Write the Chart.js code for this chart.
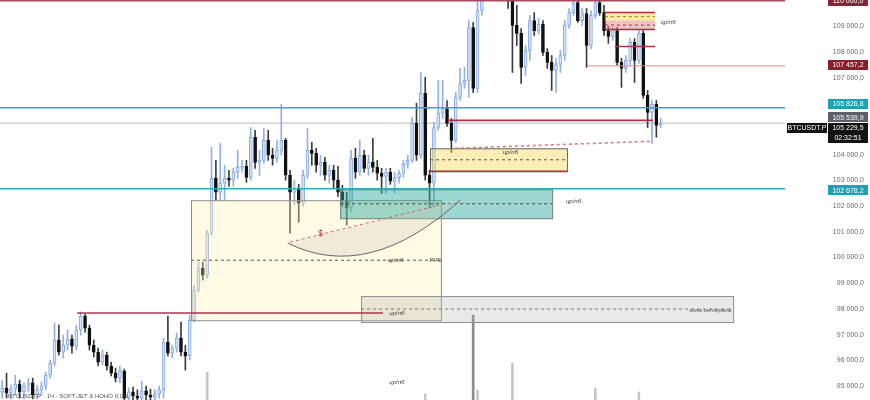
<!DOCTYPE html>
<html>
<head>
<meta charset="utf-8">
<title>BTCUSDT.P</title>
<script src="https://cdn.jsdelivr.net/npm/chart.js@4.4.1/dist/chart.umd.min.js"></script>
<style>
  html, body { margin: 0; padding: 0; background: #fff; }
  #chartBox { width: 870px; height: 400px; }
</style>
</head>
<body>
<div id="chartBox"><canvas id="priceChart" width="870" height="400"></canvas></div>
<script>
// hourly candles
const opens = [
  94770, 94920, 94730, 94880, 95080, 94770, 95000, 95120, 94650, 94850,
  95000, 95430, 95890, 96790, 96320, 96590, 96830, 96550, 97180, 97720,
  97250, 96590, 96320, 95930, 96200, 95780, 95500, 95310, 95580, 94530,
  94770, 94610, 94530, 94810, 94650, 94570, 94690, 94850, 96710, 96280,
  96480, 96870, 96320, 96170, 97560, 98730, 99590, 99310, 100950, 103080,
  102540, 102890, 103080, 103010, 103320, 103510, 103550, 103120, 104680, 103700,
  103780, 104560, 103980, 103860, 104170, 104560, 103200, 102540, 102690, 102110,
  103200, 104170, 104050, 103590, 103700, 103200, 103390, 103010, 102540, 102230,
  101920, 103860, 103320, 103980, 103470, 103700, 103510, 103280, 103160, 103320,
  102970, 103120, 103280, 103630, 103780, 105220, 103980, 106390, 103200, 102890,
  105060, 105610, 105800, 105220, 104560, 106230, 106770, 106890, 108950, 106580,
  109610, 110780, 111750, 111170, 111940, 111360, 110390, 110000, 109030, 108720,
  107400, 108060, 109220, 108830, 109070, 107980, 107590, 107280, 107510, 107860,
  109030, 109530, 109920, 109220, 109490, 108250, 109420, 109920, 109530, 108830,
  108600, 108830, 107590, 107360, 107670, 108370, 107670, 108720, 106310, 105650,
  105960, 105140
];
const highs = [
  95230, 95500, 95040, 95430, 95230, 95120, 95310, 95310, 95040, 95160,
  95540, 96010, 97450, 97370, 96980, 97180, 96980, 97370, 97880, 97800,
  97370, 96790, 96480, 96400, 96320, 95930, 95700, 95780, 95660, 94920,
  94960, 94850, 95190, 95000, 94880, 94850, 95000, 96870, 97720, 96590,
  97060, 97490, 96590, 97760, 98920, 99820, 99820, 101060, 104290, 103780,
  104440, 103590, 103390, 103470, 104170, 103780, 103780, 105060, 104950, 104170,
  105030, 104950, 104250, 104560, 105960, 104640, 103390, 103010, 102850, 103390,
  105030, 104480, 104250, 103980, 103900, 103590, 103590, 103550, 102810, 102540,
  104170, 104250, 104560, 104170, 103980, 104640, 103780, 103470, 103470, 103470,
  103320, 103390, 103780, 103980, 105450, 106000, 107200, 107010, 103390, 105260,
  106890, 106890, 106110, 105410, 106420, 107360, 107400, 109220, 109150, 110000,
  111550, 112330, 112530, 112720, 112530, 111750, 111170, 110390, 109810, 108910,
  108250, 109420, 109530, 109300, 109220, 108130, 107860, 107750, 108060, 109220,
  109690, 110190, 110080, 109690, 109690, 109610, 110190, 110310, 109810, 108990,
  108950, 108950, 107750, 107860, 108520, 108520, 108830, 108830, 106500, 106110,
  106110, 105410
];
const lows = [
  94530, 94530, 94500, 94650, 94530, 94500, 94770, 94500, 94500, 94650,
  94850, 95310, 95780, 96200, 96090, 96400, 96280, 96400, 96980, 97100,
  96400, 96130, 95780, 95820, 95620, 95390, 95160, 95120, 94380, 94380,
  94380, 94380, 94380, 94460, 94380, 94380, 94530, 94530, 96170, 96090,
  96320, 96170, 95620, 96010, 97490, 98650, 99120, 99200, 100870, 102230,
  102230, 102230, 102770, 102770, 103080, 103320, 102930, 103010, 103470, 103200,
  103670, 103780, 103590, 103700, 103980, 103010, 100950, 102030, 101370, 101990,
  103080, 103590, 103320, 103200, 103010, 102890, 102690, 102380, 101990, 101260,
  101760, 103080, 103200, 103320, 103200, 103320, 103010, 102500, 102500, 102850,
  102500, 102890, 103120, 103470, 103700, 103780, 103860, 103010, 101920, 101960,
  104950, 105410, 105100, 104090, 104480, 106110, 106580, 106230, 106420, 106420,
  109420, 110580, 110970, 110970, 111170, 110190, 109690, 107200, 108250, 106770,
  107090, 107670, 108640, 108680, 107860, 107360, 106500, 106420, 107200, 107670,
  108910, 109420, 109150, 109030, 107400, 108130, 109300, 109420, 108640, 108330,
  108450, 107470, 106620, 107200, 107470, 106810, 107550, 106190, 105060, 104440,
  104680, 105060
];
const closes = [
  94920, 94730, 94880, 95080, 94770, 95000, 95120, 94650, 94850, 95000,
  95430, 95890, 96790, 96320, 96590, 96830, 96550, 97180, 97720, 97250,
  96590, 96320, 95930, 96200, 95780, 95500, 95310, 95580, 94530, 94770,
  94610, 94530, 94810, 94650, 94570, 94690, 94850, 96710, 96280, 96480,
  96870, 96320, 96170, 97560, 98730, 99590, 99310, 100950, 103080, 102540,
  102890, 103080, 103010, 103320, 103510, 103550, 103120, 104680, 103700, 103780,
  104560, 103980, 103860, 104170, 104560, 103200, 102540, 102690, 102110, 103200,
  104170, 104050, 103590, 103700, 103200, 103390, 103010, 102540, 102230, 101920,
  103860, 103320, 103980, 103470, 103700, 103510, 103280, 103160, 103320, 102970,
  103120, 103280, 103630, 103780, 105220, 103980, 106390, 103200, 102890, 105060,
  105610, 105800, 105220, 104560, 106230, 106770, 106890, 108950, 106580, 109610,
  110780, 111750, 111170, 111940, 111360, 110390, 110000, 109030, 108720, 107400,
  108060, 109220, 108830, 109070, 107980, 107590, 107280, 107510, 107860, 109030,
  109530, 109920, 109220, 109490, 108250, 109420, 109920, 109530, 108830, 108600,
  108830, 107590, 107360, 107670, 108370, 107670, 108720, 106310, 105650, 105960,
  105140, 105229.5
];
// volume: only a few bars reach above the bottom edge, the rest stay hidden
const volumes = [
  null, null, null, null, null, null, null, null, null, null,
  null, null, null, null, null, null, null, null, null, null,
  null, null, null, null, null, null, null, null, null, null,
  null, null, null, null, null, null, null, null, null, null,
  null, null, null, null, null, null, null, 7, null, null,
  null, null, null, null, null, null, null, null, null, null,
  null, null, null, null, null, null, null, null, null, null,
  null, null, null, null, null, null, null, null, null, null,
  null, null, null, null, null, null, null, null, null, null,
  null, null, null, null, null, null, null, 1.5, null, null,
  null, null, null, null, null, null, null, null, 21.2, 2.5,
  null, null, null, null, null, null, null, 9.2, null, null,
  null, null, null, null, null, null, null, null, null, null,
  null, null, null, null, null, null, 3, null, null, null,
  null, null, null, null, null, null, 2, null, null, null,
  null, null
];
const slotCount = 180; // candles + empty space on the right
const priceTicks = [95000, 96000, 97000, 98000, 99000, 100000, 101000, 102000,
  103000, 104000, 105000, 106000, 107000, 108000, 109000, 110000];
const priceMin = 94456;
const priceMax = 110020;

// levels and drawings, in [index, price] terms
const topLevel = 109990;
const cyanLevels = [105826.8, 102678.2];
const redTagLevel = 107457.2;
const redTagFrom = 134.1;
const prevClose = 105539.9;
const lastPrice = 105229.5;
const countdown = "02:32:51";
const redSegments = [
  [17.2, 87.3, 97840],
  [102.2, 149.2, 105338],
  [140.5, 149.7, 108210],
];
const fvgZone = [43.3, 100.6, 102230, 97560];
const tealZone = [77.5, 126.1, 102655, 101530];
const yellowZone = [98.1, 129.5, 104250, 103355];
const interestZone = [82.3, 167.6, 98500, 97490];
const topYellowZone = [138.2, 149.7, 109530, 109220];
const topPinkZone = [138.2, 149.7, 109220, 108870];
const liquidityLine = [[103.8, 104250], [148.5, 104520]];
const sweepCurve = [[65.5, 100560], [84, 99000], [105, 102230]];
const sweepLine = [[66, 100600], [100, 102030]];
const notes = [
  [116.5, 104100, "цр/пб"],
  [131, 102190, "цр/пб"],
  [90.2, 99895, "цр/пб"],
  [90.5, 97840, "цр/пб"],
  [152.7, 109150, "цр/пб"],
  [90.5, 95150, "цр/пб"],
];

const fmtPrice = (v) => {
  const [whole, dec] = Number(v).toFixed(1).split(".");
  return whole.replace(/\B(?=(\d{3})+(?!\d))/g, " ") + "," + dec;
};
const isUp = (i) => closes[i] >= opens[i];

function hline(ctx, x0, x1, y, color, width, dash) {
  ctx.beginPath();
  ctx.setLineDash(dash || []);
  ctx.strokeStyle = color;
  ctx.lineWidth = width;
  ctx.moveTo(x0, y);
  ctx.lineTo(x1, y);
  ctx.stroke();
  ctx.setLineDash([]);
}

function label(ctx, str, x, y, color, font, align) {
  ctx.font = font;
  ctx.fillStyle = color;
  ctx.textAlign = align || "left";
  ctx.textBaseline = "middle";
  ctx.fillText(str, x, y);
}

function tag(ctx, str, left, width, yc, bg) {
  ctx.fillStyle = bg;
  ctx.fillRect(left, Math.round(yc - 5), width, 10);
  label(ctx, str, left + width / 2, yc + 0.5, "#fff", "7px 'Liberation Sans'", "center");
}

const drawings = {
  id: "drawings",
  beforeDatasetsDraw(chart) {
    const { ctx, chartArea: a, scales } = chart;
    ctx.save();
    hline(ctx, a.left, a.right, scales.y.getPixelForValue(lastPrice), "#b8b8b8", 1);
    ctx.restore();
  },
  afterDatasetsDraw(chart) {
    const { ctx, chartArea: a, scales } = chart;
    const px = (i) => scales.x.getPixelForValue(i);
    const py = (p) => scales.y.getPixelForValue(p);
    const zone = (z, fill, stroke, midColor) => {
      const x0 = px(z[0]), x1 = px(z[1]), y0 = py(z[2]), y1 = py(z[3]);
      ctx.fillStyle = fill;
      ctx.fillRect(x0, y0, x1 - x0, y1 - y0);
      if (stroke) {
        ctx.strokeStyle = stroke;
        ctx.lineWidth = 1;
        ctx.strokeRect(x0 + 0.5, y0 + 0.5, x1 - x0, y1 - y0);
      }
      if (midColor) hline(ctx, x0, x1, (y0 + y1) / 2, midColor, 1, [3, 3]);
    };

    ctx.save();
    ctx.beginPath();
    ctx.rect(a.left, a.top, a.width, a.height);
    ctx.clip();

    // zones
    zone(fvgZone, "rgba(255,240,170,0.32)", "#8f8f8f", "#555");
    zone(interestZone, "rgba(175,175,175,0.28)", "#8f8f8f", "#777");
    zone(tealZone, "rgba(38,166,154,0.45)", "#6a7a78", "#444");
    zone(yellowZone, "rgba(250,215,80,0.42)", "#666", "#555");
    hline(ctx, px(yellowZone[0]), px(yellowZone[1]), py(yellowZone[3]), "#b0303f", 1.5);
    zone(topYellowZone, "rgba(250,215,80,0.5)", null, "#a08020");
    zone(topPinkZone, "rgba(225,120,120,0.45)", null, "#b03040");
    hline(ctx, px(topYellowZone[0]), px(topYellowZone[1]), py(topYellowZone[2]), "#a83040", 1.5);
    hline(ctx, px(topPinkZone[0]), px(topPinkZone[1]), py(topPinkZone[3]), "#a83040", 1.5);

    // sweep curve
    const p0 = [px(sweepCurve[0][0]), py(sweepCurve[0][1])];
    const c = [px(sweepCurve[1][0]), py(sweepCurve[1][1])];
    const p2 = [px(sweepCurve[2][0]), py(sweepCurve[2][1])];
    ctx.beginPath();
    ctx.moveTo(p0[0], p0[1]);
    ctx.quadraticCurveTo(c[0], c[1], p2[0], p2[1]);
    ctx.closePath();
    ctx.fillStyle = "rgba(205,200,190,0.3)";
    ctx.fill();
    ctx.beginPath();
    ctx.moveTo(p0[0], p0[1]);
    ctx.quadraticCurveTo(c[0], c[1], p2[0], p2[1]);
    ctx.strokeStyle = "#666";
    ctx.lineWidth = 1;
    ctx.stroke();
    ctx.beginPath();
    ctx.setLineDash([3, 3]);
    ctx.moveTo(px(sweepLine[0][0]), py(sweepLine[0][1]));
    ctx.lineTo(px(sweepLine[1][0]), py(sweepLine[1][1]));
    ctx.strokeStyle = "#d06070";
    ctx.stroke();
    ctx.setLineDash([]);
    label(ctx, "$", px(73), py(100945), "#c04050", "9px 'Liberation Sans'", "center");

    // levels
    hline(ctx, a.left, a.right, py(topLevel), "#a8485a", 1.5);
    cyanLevels.forEach((p) => hline(ctx, a.left, a.right, py(p), "#2aaebf", 1.5));
    hline(ctx, px(redTagFrom), a.right, py(redTagLevel), "#d89098", 1);
    redSegments.forEach((s) => hline(ctx, px(s[0]), px(s[1]), py(s[2]), "#ad3447", 1.6));

    // liquidity dashes
    ctx.beginPath();
    ctx.setLineDash([3, 3]);
    ctx.moveTo(px(liquidityLine[0][0]), py(liquidityLine[0][1]));
    ctx.lineTo(px(liquidityLine[1][0]), py(liquidityLine[1][1]));
    ctx.strokeStyle = "rgba(215,110,120,0.9)";
    ctx.stroke();
    ctx.setLineDash([]);

    // small texts
    notes.forEach((n) => label(ctx, n[2], px(n[0]), py(n[1]), "#444", "italic 6px 'Liberation Sans'", "center"));
    label(ctx, "FVG", px(99.4), py(99895), "#444", "italic 6px 'Liberation Sans'", "center");
    label(ctx, "зона интереса", px(167.2), py(97960), "#555", "italic 6px 'Liberation Sans'", "right");
    label(ctx, "BTCUSDT.P · 1Ч · SOFT-JET & HOHO 0,0%", 8, 396, "#555", "6px 'Liberation Sans'", "left");
    ctx.restore();
  },
  afterDraw(chart) {
    const { ctx, scales } = chart;
    const py = (p) => scales.y.getPixelForValue(p);
    const right = chart.width - 2;
    ctx.save();
    tag(ctx, fmtPrice(110000), right - 40, 40, py(topLevel), "#8e2234");
    tag(ctx, fmtPrice(redTagLevel), right - 40, 40, py(redTagLevel) - 1, "#8e1b2b");
    tag(ctx, fmtPrice(cyanLevels[0]), right - 40, 40, py(cyanLevels[0]) - 4, "#1ba3b5");
    tag(ctx, fmtPrice(cyanLevels[1]), right - 40, 40, py(cyanLevels[1]) + 1.5, "#1ba3b5");
    tag(ctx, fmtPrice(prevClose), right - 40, 40, py(prevClose) + 2, "#5d6069");
    tag(ctx, fmtPrice(lastPrice), right - 40, 40, py(lastPrice) + 4.5, "#131313");
    tag(ctx, countdown, right - 40, 40, py(lastPrice) + 14.5, "#131313");
    tag(ctx, "BTCUSDT.P", right - 81, 40, py(lastPrice) + 4.5, "#131313");
    ctx.restore();
  },
};

function renderPriceChart() {
  const ctx = document.getElementById("priceChart").getContext("2d");
  new Chart(ctx, {
    type: "bar",
    data: {
      labels: Array.from({ length: slotCount }, (_, i) => i),
      datasets: [
        {
          label: "body",
          data: closes.map((c, i) => [opens[i], c]),
          backgroundColor: (c) => (isUp(c.dataIndex) ? "#d6e3f7" : "#111"),
          borderColor: (c) => (isUp(c.dataIndex) ? "#86a8e0" : "#111"),
          borderWidth: 1,
          borderSkipped: false,
          barThickness: 3,
          grouped: false,
          order: 1,
        },
        {
          label: "wick",
          data: highs.map((h, i) => [lows[i], h]),
          backgroundColor: (c) => (isUp(c.dataIndex) ? "#8fb1e8" : "#3c3c3c"),
          barThickness: 1,
          grouped: false,
          order: 2,
        },
        {
          label: "volume",
          data: volumes,
          yAxisID: "yv",
          backgroundColor: (c) => (volumes[c.dataIndex] > 15 ? "#8c8c8c" : "#c6c6c6"),
          barThickness: 2,
          grouped: false,
          order: 3,
        },
      ],
    },
    options: {
      responsive: false,
      animation: false,
      devicePixelRatio: 1,
      events: [],
      // small right gap so the price labels end a few px before the edge
      layout: { padding: { left: 0, top: 0, bottom: 0, right: 6 } },
      plugins: { legend: { display: false }, tooltip: { enabled: false } },
      scales: {
        x: { display: false, offset: true },
        y: {
          position: "right",
          min: priceMin,
          max: priceMax,
          grid: { display: false, drawTicks: false },
          border: { display: false },
          afterBuildTicks: (scale) => {
            scale.ticks = priceTicks.map((v) => ({ value: v }));
          },
          afterFit: (scale) => {
            scale.width = 79;
            scale.paddingTop = 0;
            scale.paddingBottom = 0;
          },
          ticks: {
            autoSkip: false,
            crossAlign: "far",
            padding: 0,
            color: "#6a6a6a",
            font: { family: "'Liberation Sans'", size: 7 },
            callback: (v) => fmtPrice(v),
          },
        },
        yv: { display: false, min: 0, max: 100 },
      },
    },
    plugins: [drawings],
  });
}

function init() {
  renderPriceChart();
}

init();
</script>
</body>
</html>
